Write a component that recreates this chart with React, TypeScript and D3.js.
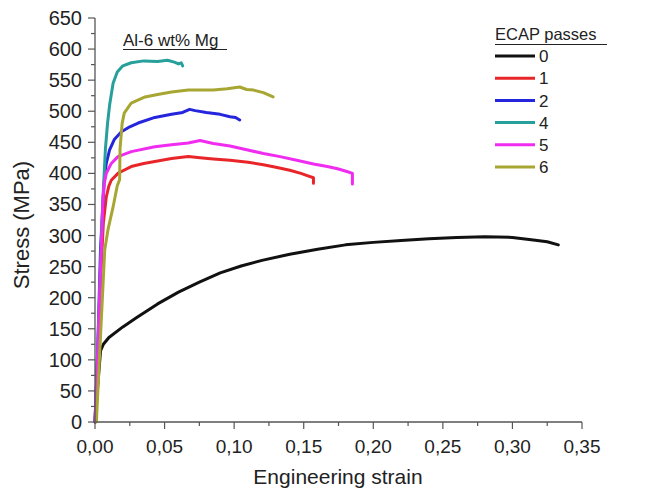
import React from "react";
import * as d3 from "d3";

type Pt = [number, number];

const xTicks = [0, 0.05, 0.1, 0.15, 0.2, 0.25, 0.3, 0.35];
const yTicks = [0, 50, 100, 150, 200, 250, 300, 350, 400, 450, 500, 550, 600, 650];

const passes0: Pt[] = [
  [0, 0], [0.002, 60], [0.004, 115], [0.006, 125], [0.01, 136], [0.02, 153], [0.03, 168],
  [0.045, 190], [0.06, 209], [0.075, 225], [0.09, 240], [0.105, 251], [0.12, 260],
  [0.14, 270], [0.16, 278], [0.18, 285], [0.2, 289], [0.22, 292], [0.24, 295],
  [0.26, 297], [0.28, 298], [0.3, 297], [0.315, 293], [0.325, 290], [0.333, 285],
];
const passes1: Pt[] = [
  [0, 0], [0.002, 100], [0.004, 230], [0.006, 320], [0.0081, 362], [0.01, 380], [0.0117, 389],
  [0.0165, 400], [0.019, 403], [0.026, 411], [0.035, 416], [0.043, 419], [0.055, 424],
  [0.067, 427], [0.0755, 425], [0.085, 423], [0.097, 421], [0.11, 418], [0.121, 414],
  [0.13, 410], [0.14, 405], [0.148, 400], [0.153, 396], [0.157, 393], [0.157, 384],
];
const passes2: Pt[] = [
  [0, 0], [0.002, 120], [0.004, 280], [0.0065, 385], [0.008, 415], [0.0105, 438], [0.014, 455],
  [0.019, 467], [0.025, 475], [0.031, 481], [0.043, 490], [0.055, 495], [0.063, 498],
  [0.068, 503], [0.072, 501], [0.08, 498], [0.09, 495], [0.097, 491], [0.101, 490], [0.104, 486],
];
const passes4: Pt[] = [
  [0, 0], [0.002, 120], [0.0035, 220], [0.0055, 350], [0.0075, 440], [0.009, 480], [0.0105, 510],
  [0.013, 545], [0.016, 563], [0.02, 573], [0.026, 578], [0.035, 581], [0.045, 580],
  [0.052, 582], [0.057, 579], [0.06, 576], [0.062, 578], [0.063, 573],
];
const passes5: Pt[] = [
  [0, 0], [0.002, 110], [0.0045, 277], [0.0058, 362], [0.0068, 385], [0.0081, 400], [0.0117, 416],
  [0.0165, 427], [0.026, 435], [0.043, 443], [0.055, 446], [0.067, 449], [0.0755, 453],
  [0.085, 448], [0.097, 444], [0.109, 438], [0.121, 432], [0.133, 427], [0.145, 421],
  [0.157, 415], [0.167, 411], [0.175, 407], [0.181, 403], [0.185, 400], [0.185, 383],
];
const passes6: Pt[] = [
  [0.001, 0], [0.004, 140], [0.007, 277], [0.0093, 309], [0.013, 346], [0.016, 380],
  [0.0177, 390], [0.018, 440], [0.0195, 480], [0.021, 497], [0.026, 513], [0.036, 523],
  [0.045, 527], [0.055, 531], [0.067, 534], [0.085, 534], [0.095, 536], [0.104, 539],
  [0.109, 535], [0.114, 534], [0.121, 530], [0.128, 523],
];

const seriesNames = ["0", "1", "2", "4", "5", "6"];
const seriesData = [passes0, passes1, passes2, passes4, passes5, passes6];
const seriesColors = ["#111111", "#e8262a", "#2525dd", "#27a09b", "#f02cf0", "#a8a632"];

const FONT = "'Liberation Sans', Arial, sans-serif";

export default function App() {
  const x = d3.scaleLinear().domain([0, 0.35]).range([95, 582]);
  const y = d3.scaleLinear().domain([0, 650]).range([422, 18]);
  const line = d3
    .line<Pt>()
    .x((d) => x(d[0]))
    .y((d) => y(d[1]));

  const xMinor = d3.range(0, 0.3501, 0.025);
  const yMinor = d3.range(0, 651, 25);
  const fmt = (v: number) => v.toFixed(2).replace(".", ",");

  return (
    <svg
      width={668}
      height={497}
      style={{ position: "absolute", left: 0, top: 0, background: "#fff" }}
      fontFamily={FONT}
    >
      <rect width={668} height={497} fill="#fff" />
      {/* curves */}
      {seriesData.map((d, i) => (
        <path
          key={i}
          d={line(d) || ""}
          fill="none"
          stroke={seriesColors[i]}
          strokeWidth={3}
          strokeLinejoin="round"
          strokeLinecap="round"
        />
      ))}
      {/* axes */}
      <line x1={x(0)} x2={x(0.35)} y1={y(0)} y2={y(0)} stroke="#555" strokeWidth={1.3} />
      <line x1={x(0)} x2={x(0)} y1={y(0)} y2={y(650)} stroke="#555" strokeWidth={1.3} />
      {xMinor.map((v, i) => (
        <line key={"xm" + i} x1={x(v)} x2={x(v)} y1={y(0)} y2={y(0) + (i % 2 === 0 ? 7 : 4)} stroke="#555" strokeWidth={1.2} />
      ))}
      {yMinor.map((v, i) => (
        <line key={"ym" + i} x1={x(0)} x2={x(0) - (i % 2 === 0 ? 7 : 4)} y1={y(v)} y2={y(v)} stroke="#555" strokeWidth={1.2} />
      ))}
      {xTicks.map((v) => (
        <text key={"xt" + v} x={x(v)} y={453} textAnchor="middle" fontSize={19} fill="#222">
          {fmt(v)}
        </text>
      ))}
      {yTicks.map((v) => (
        <text key={"yt" + v} x={82} y={y(v)} dy="0.35em" textAnchor="end" fontSize={20} fill="#222">
          {v}
        </text>
      ))}
      <text x={338} y={484} textAnchor="middle" fontSize={21} fill="#222">
        Engineering strain
      </text>
      <text transform="translate(29,225) rotate(-90)" textAnchor="middle" fontSize={22} fill="#222">
        Stress (MPa)
      </text>
      {/* inset title */}
      <text x={123} y={46} fontSize={17} fill="#222">
        Al-6 wt% Mg
      </text>
      <line x1={123} x2={227} y1={49.5} y2={49.5} stroke="#222" strokeWidth={1.2} />
      {/* legend */}
      <text x={495} y={40} fontSize={16.5} fill="#222">
        ECAP passes
      </text>
      <line x1={495} x2={607} y1={44.5} y2={44.5} stroke="#222" strokeWidth={1.2} />
      {seriesNames.map((n, i) => (
        <g key={"lg" + n} transform={`translate(0,${56 + i * 22.2})`}>
          <line x1={495} x2={535} y1={0} y2={0} stroke={seriesColors[i]} strokeWidth={3} />
          <text x={539} y={0} dy="0.36em" fontSize={17} fill="#222">
            {n}
          </text>
        </g>
      ))}
    </svg>
  );
}
